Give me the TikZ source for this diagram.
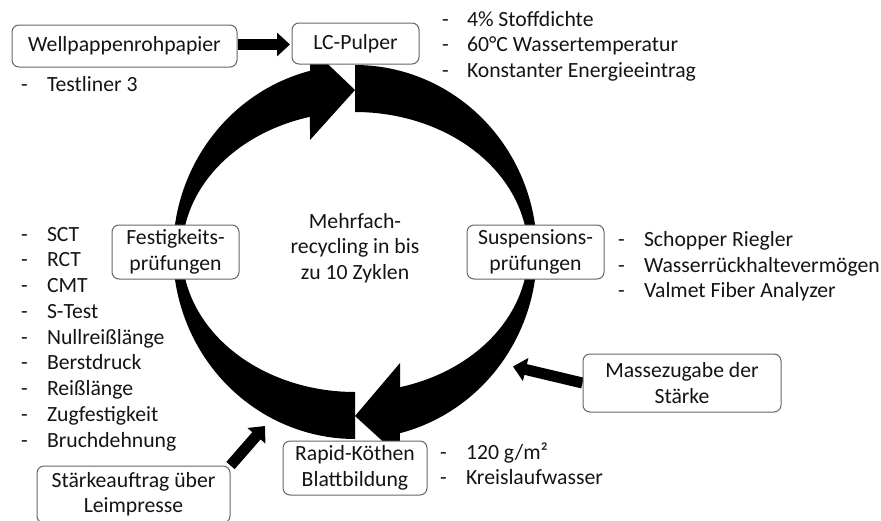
\documentclass[tikz,border=0pt]{standalone}
\usepackage{fontspec}
\setmainfont{Carlito}
\usetikzlibrary{arrows.meta,backgrounds}
\begin{document}
\begin{tikzpicture}[x=1pt,y=-1pt,
  font=\fontsize{21.7}{25.4}\selectfont,
  box/.style={draw=black!60, line width=1pt, rounded corners=7pt, fill=white,
    align=center, inner sep=0pt, text=black!92},
  txt/.style={anchor=base west, inner sep=0pt, outer sep=0pt, text=black!92},
  blockarrow/.style={line width=11pt, black, -{Triangle[length=13pt,width=23pt]}},
  bigarc/.style={fill=black}
]
\useasboundingbox (0,0) rectangle (881,520);

% boxes
\node[box, minimum width=225pt, minimum height=42pt] (wp) at (124.5,46) {Wellpappenrohpapier};
\node[box, minimum width=127pt, minimum height=41pt] (lc) at (355.5,43.5) {LC-Pulper};
\node[box, minimum width=127pt, minimum height=54pt] (fp) at (175.5,252) {Festigkeits-\\prüfungen};
\node[box, minimum width=137pt, minimum height=54pt] (sp) at (535.5,252) {Suspensions-\\prüfungen};
\node[box, minimum width=198pt, minimum height=58pt] (mz) at (682,383) {Massezugabe der\\Stärke};
\node[box, minimum width=144pt, minimum height=54pt] (rk) at (355,468) {Rapid-Köthen\\Blattbildung};
\node[box, minimum width=193pt, minimum height=57pt] (st) at (133.5,494.5) {Stärkeauftrag über\\Leimpresse};

% centre text
\node[align=center, inner sep=0pt, text=black!92] (mf) at (355,248) {Mehrfach-\\recycling in bis\\zu 10 Zyklen};

% lists
\node[txt] (tld) at (21,91) {-};
\node[txt] (tlt) at (47,91) {Testliner 3};

\foreach \t [count=\i from 0] in {4\% Stoffdichte,60°C Wassertemperatur,Konstanter Energieeintrag}{
  \node[txt] (lcd\i) at (442,{26+25.5*\i}) {-};
  \node[txt] (lct\i) at (467,{26+25.5*\i}) {\t};
}
\foreach \t [count=\i from 0] in {SCT,RCT,CMT,S-Test,Nullreißlänge,Berstdruck,Reißlänge,Zugfestigkeit,Bruchdehnung}{
  \node[txt] (fd\i) at (21,{241+25.75*\i}) {-};
  \node[txt] (ft\i) at (47,{241+25.75*\i}) {\t};
}
\foreach \t [count=\i from 0] in {Schopper Riegler,Wasserrückhaltevermögen,Valmet Fiber Analyzer}{
  \node[txt] (sd\i) at (618,{246.5+25.5*\i}) {-};
  \node[txt] (stx\i) at (644,{246.5+25.5*\i}) {\t};
}
\foreach \t [count=\i from 0] in {120 g/m²,Kreislaufwasser}{
  \node[txt] (rd\i) at (440,{459+25.5*\i}) {-};
  \node[txt] (rt\i) at (466,{459+25.5*\i}) {\t};
}

\coordinate (t1) at (290,44.5);
\coordinate (t2) at (265,426);
\coordinate (t3) at (513,366.5);

\begin{pgfonlayer}{background}
  % right circular arrow (top -> right -> bottom)
  \fill[bigarc] plot[domain=-90:75.69,samples=90] ({355+182*cos(\x)},{252+187*sin(\x)})
     -- (400,457) -- (355,416) -- (400,363)
     -- plot[domain=74.92:-90,samples=90] ({355+173*cos(\x)},{252+140*sin(\x)}) -- cycle;
  % left circular arrow (bottom -> left -> top)
  \fill[bigarc] plot[domain=90:255.69,samples=90] ({355+182*cos(\x)},{252+187*sin(\x)})
     -- (310,47) -- (355,90) -- (310,140)
     -- plot[domain=254.92:90,samples=90] ({355+173*cos(\x)},{252+140*sin(\x)}) -- cycle;
  % small block arrows
  \draw[blockarrow] (wp.east |- t1) -- (t1);
  \draw[blockarrow] (st.north east) -- (t2);
  \draw[blockarrow] (mz.west) -- (t3);
\end{pgfonlayer}
\end{tikzpicture}
\end{document}
